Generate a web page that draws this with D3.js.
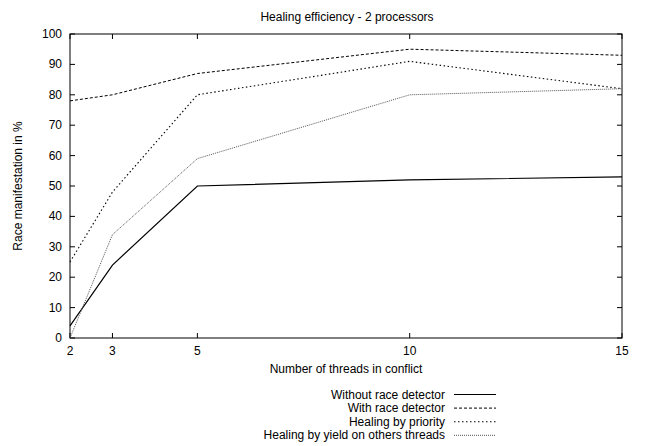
<!DOCTYPE html>
<html>
<head>
<meta charset="utf-8">
<script src="https://cdn.jsdelivr.net/npm/d3@7"></script>
<style>
  body { margin: 0; background: #fff; }
  text { font-family: "Liberation Sans", Arial, sans-serif; font-size: 12px; fill: #000; }
</style>
</head>
<body>
<div id="graph"></div>
<script>
let width = 646, height = 446;

// data
let threads = [2, 3, 5, 10, 15];
let withoutDetector = [4, 24, 50, 52, 53];
let withDetector = [78, 80, 87, 95, 93];
let healingPriority = [25, 48, 80, 91, 82];
let healingYield = [0, 34, 59, 80, 82];
let yTicks = [0, 10, 20, 30, 40, 50, 60, 70, 80, 90, 100];
let seriesNames = ["Without race detector", "With race detector", "Healing by priority", "Healing by yield on others threads"];

let series = [
  { name: seriesNames[0], values: withoutDetector, dash: null, color: "#000", w: 1.2 },
  { name: seriesNames[1], values: withDetector, dash: "3,2", color: "#000", w: 1 },
  { name: seriesNames[2], values: healingPriority, dash: "1.5,2.5", color: "#000", w: 1.1 },
  { name: seriesNames[3], values: healingYield, dash: "1,1", color: "#555", w: 1 }
];

let svg = d3.select("#graph").append("svg")
  .attr("width", width)
  .attr("height", height);

let plotLeft = 70, plotRight = 622, plotTop = 34, plotBottom = 338;

let x = d3.scaleLinear().domain([2, 15]).range([plotLeft, plotRight]);
let y = d3.scaleLinear().domain([0, 100]).range([plotBottom, plotTop]);

// title and axis labels
svg.append("text")
  .attr("x", 347).attr("y", 21)
  .attr("text-anchor", "middle")
  .text("Healing efficiency - 2 processors");

svg.append("text")
  .attr("x", 346).attr("y", 373)
  .attr("text-anchor", "middle")
  .text("Number of threads in conflict");

svg.append("text")
  .attr("transform", "translate(22,186) rotate(-90)")
  .attr("text-anchor", "middle")
  .text("Race manifestation in %");

// axes, gnuplot style: ticks inside and mirrored
let tickLen = 5;
let axisG = svg.append("g").attr("stroke", "#000").attr("stroke-width", 1);

axisG.append("rect")
  .attr("x", plotLeft).attr("y", plotTop)
  .attr("width", plotRight - plotLeft).attr("height", plotBottom - plotTop)
  .attr("fill", "none");

yTicks.forEach(t => {
  axisG.append("line").attr("x1", plotLeft).attr("x2", plotLeft + tickLen).attr("y1", y(t)).attr("y2", y(t));
  axisG.append("line").attr("x1", plotRight).attr("x2", plotRight - tickLen).attr("y1", y(t)).attr("y2", y(t));
  svg.append("text")
    .attr("x", plotLeft - 8).attr("y", y(t) + 4)
    .attr("text-anchor", "end")
    .text(t);
});

threads.forEach(t => {
  axisG.append("line").attr("x1", x(t)).attr("x2", x(t)).attr("y1", plotBottom).attr("y2", plotBottom - tickLen);
  axisG.append("line").attr("x1", x(t)).attr("x2", x(t)).attr("y1", plotTop).attr("y2", plotTop + tickLen);
  svg.append("text")
    .attr("x", x(t)).attr("y", plotBottom + 17)
    .attr("text-anchor", "middle")
    .text(t);
});

// lines
let line = d3.line()
  .x((d, i) => x(threads[i]))
  .y(d => y(d));

svg.append("g").selectAll("path")
  .data(series)
  .enter().append("path")
  .attr("d", d => line(d.values))
  .attr("fill", "none")
  .attr("stroke", d => d.color)
  .attr("stroke-width", d => d.w)
  .attr("stroke-dasharray", d => d.dash);

// legend
let legend = svg.append("g").selectAll("g")
  .data(series)
  .enter().append("g")
  .attr("transform", (d, i) => "translate(0," + (394.5 + i * 13.6) + ")");

legend.append("text")
  .attr("x", 445).attr("y", 4)
  .attr("text-anchor", "end")
  .text(d => d.name);

legend.append("line")
  .attr("x1", 454).attr("x2", 496)
  .attr("y1", 0).attr("y2", 0)
  .attr("stroke", d => d.color)
  .attr("stroke-width", d => d.w)
  .attr("stroke-dasharray", d => d.dash);
</script>
</body>
</html>
